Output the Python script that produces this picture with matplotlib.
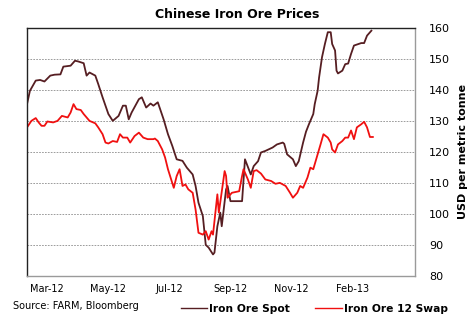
import matplotlib
matplotlib.use("Agg")
import matplotlib.pyplot as plt

# trading-day index (0 = start of Mar-12) and price
spot_days = [0, 2, 6, 9, 12, 16, 19, 23, 25, 30, 33, 35, 39, 41, 43, 47, 49, 52, 56, 59,
             63, 66, 68, 70, 72, 77, 79, 82, 85, 87, 90, 94, 97, 100, 103, 107, 110, 114, 116, 118,
             121, 123, 125, 128, 129, 131, 133, 134, 137, 138, 140, 148, 150, 154, 156, 159, 161, 164, 169, 172,
             176, 177, 179, 183, 185, 187, 190, 192, 194, 197, 198, 200, 201, 203, 205, 207, 209, 210, 212, 213,
             214, 217, 219, 221, 223, 225, 230, 232, 234, 237]
spot = [135.4, 139.7, 143.0, 143.2, 142.7, 144.6, 144.9, 145.0, 147.5, 147.8, 149.4, 149.2, 148.6, 144.6, 145.6, 144.6, 141.9, 137.6, 132.2, 130.0,
        131.6, 134.9, 134.9, 130.5, 132.7, 137.0, 137.6, 134.3, 135.6, 134.9, 136.0, 130.5, 125.7, 121.9, 117.6, 117.1, 114.9, 112.7, 109.0, 103.6,
        99.3, 90.0, 89.1, 86.9, 87.5, 96.0, 100.4, 96.0, 107.9, 109.0, 104.1, 104.1, 117.6, 112.7, 115.4, 117.0, 119.8, 120.3, 121.4, 122.4,
        123.0, 122.6, 119.2, 117.6, 115.4, 117.0, 123.0, 126.5, 128.9, 132.2, 135.4, 139.7, 144.0, 150.5, 154.8, 158.6, 158.6, 154.8, 152.7, 146.2,
        145.3, 146.2, 148.3, 148.5, 151.6, 154.3, 155.1, 155.1, 157.5, 159.1]

swap_days = [0, 3, 6, 8, 10, 12, 14, 18, 21, 24, 28, 30, 32, 34, 37, 39, 41, 43, 47, 49,
             52, 54, 56, 59, 62, 64, 66, 69, 71, 74, 77, 80, 83, 87, 88, 90, 93, 95, 97, 101,
             103, 105, 107, 109, 111, 114, 116, 118, 121, 123, 125, 127, 128, 131, 132, 136, 137, 138, 141, 146,
             148, 149, 152, 154, 156, 158, 161, 164, 168, 171, 174, 178, 181, 183, 186, 188, 190, 193, 195, 197,
             200, 202, 204, 207, 209, 210, 212, 214, 217, 219, 221, 223, 225, 227, 230, 232, 234, 236, 238]
swap = [127.9, 130.0, 130.9, 129.5, 128.4, 128.4, 129.8, 129.5, 130.0, 131.6, 131.1, 132.7, 135.4, 133.8, 133.5, 132.2, 131.1, 130.0, 129.2, 127.9,
        125.7, 123.0, 122.7, 123.5, 123.2, 125.7, 124.6, 124.6, 123.0, 125.1, 126.2, 124.6, 124.1, 124.1, 124.3, 123.5, 120.8, 118.2, 114.4, 108.4,
        112.2, 114.4, 109.0, 109.5, 107.9, 106.8, 101.4, 93.9, 93.3, 94.4, 91.7, 94.4, 93.3, 106.3, 100.4, 113.8, 112.2, 105.2, 106.8, 107.3,
        112.2, 114.4, 111.1, 108.4, 113.8, 114.1, 113.0, 111.1, 110.6, 109.7, 110.0, 109.0, 106.8, 105.2, 106.8, 109.0, 108.4, 111.7, 114.9, 114.4,
        119.2, 122.4, 125.7, 124.6, 123.0, 120.8, 119.8, 122.4, 123.5, 124.6, 124.6, 126.9, 124.1, 127.9, 128.9, 129.7, 127.9, 124.8, 124.8]

tick_days = [14, 56, 98, 140, 182, 224]
tick_labels = ["Mar-12", "May-12", "Jul-12", "Sep-12", "Nov-12", "Feb-13"]
y_ticks = [80, 90, 100, 110, 120, 130, 140, 150, 160]

spot_color = "#561e22"
swap_color = "#f01010"

fig = plt.figure(figsize=(4.74, 3.28), dpi=100)
ax = fig.add_axes([0.057, 0.159, 0.8185, 0.756])

ax.plot(spot_days, spot, color=spot_color, lw=1.3, label="Iron Ore Spot")
ax.plot(swap_days, swap, color=swap_color, lw=1.3, label="Iron Ore 12 Swap")

ax.set_xlim(0, 267)
ax.set_ylim(80, 160)
ax.set_yticks(y_ticks)
ax.set_xticks(tick_days)
ax.set_xticklabels(tick_labels, fontsize=7)
ax.yaxis.tick_right()
ax.yaxis.set_label_position("right")
ax.tick_params(axis="y", length=0, labelsize=8, pad=10)
ax.tick_params(axis="x", length=0, pad=6)
ax.set_ylabel("USD per metric tonne", fontsize=8, fontweight="bold", labelpad=6)

# dashed horizontal gridlines
for y in y_ticks[1:-1]:
    ax.axhline(y, color="#8c8c8c", lw=0.6, ls=(0, (2, 1.5)), zorder=0)

ax.spines["left"].set_color("#222222")
ax.spines["top"].set_color("#222222")
ax.spines["right"].set_color("#9a9a9a")
ax.spines["bottom"].set_color("#9a9a9a")
for s in ax.spines.values():
    s.set_linewidth(1.0)

fig.text(0.5, 0.955, "Chinese Iron Ore Prices", ha="center", va="center",
         fontsize=9, fontweight="bold")
fig.text(0.028, 0.066, "Source: FARM, Bloomberg", ha="left", va="center", fontsize=7)

leg = fig.legend(loc="center left", bbox_to_anchor=(0.372, 0.058), ncol=2, frameon=False,
                 prop={"weight": "bold", "size": 7.7}, handlelength=2.45, handletextpad=0.2,
                 columnspacing=2.4, borderaxespad=0)
for line in leg.get_lines():
    line.set_linewidth(1.0)

fig.savefig("out.png", dpi=100)
